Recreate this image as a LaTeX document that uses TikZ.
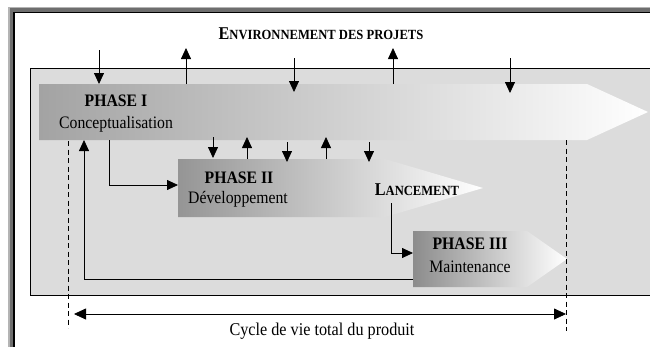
\documentclass[tikz,border=0pt]{standalone}
\usepackage{fontspec}
\setmainfont{Liberation Serif}[FakeStretch=0.9]
\usetikzlibrary{arrows.meta}
\definecolor{framelight}{HTML}{B4B4B4}
\definecolor{framedark}{HTML}{6E6E6E}
\definecolor{bgrey}{HTML}{DCDCDC}
\definecolor{ponel}{HTML}{A3A3A3}
\definecolor{ponem}{HTML}{D0D0D0}
\definecolor{ptwol}{HTML}{959595}
\definecolor{ptwom}{HTML}{D2D2D2}
\definecolor{pthreel}{HTML}{8C8C8C}
\definecolor{pthreem}{HTML}{CFCFCF}
\begin{document}
\begin{tikzpicture}[x=1pt,y=-1pt,
  arr/.style={line width=0.8pt,-{Triangle[length=11pt,width=10pt]}},
  dbl/.style={line width=0.8pt,{Triangle[length=12pt,width=11pt]}-{Triangle[length=12pt,width=11pt]}},
  dsh/.style={line width=0.8pt,dash pattern=on 5pt off 3.5pt},
  txt/.style={inner sep=0pt,anchor=base,font=\fontsize{17.5}{18}\selectfont},
  btxt/.style={inner sep=0pt,anchor=base,font=\fontsize{17.5}{18}\selectfont\bfseries},
  sctxt/.style={inner sep=0pt,anchor=base,font=\bfseries}]
\useasboundingbox (0,0) rectangle (650,346);
\clip (0,0) rectangle (650,346);
% frame
\fill[framelight] (8.3,6.7) rectangle (660,360);
\fill[framedark] (10,8.3) rectangle (660,360);
\fill[black] (13.3,11.7) rectangle (660,360);
\fill[white] (15,13.3) rectangle (660,360);
% background
\filldraw[fill=bgrey,draw=black,line width=0.8pt] (30,68) rectangle (665,295);
% phases
\shade[left color=ponel,middle color=ponem,right color=white]
  (39,84) -- (587,84) -- (648,112) -- (587,140) -- (39,140) -- cycle;
\shade[left color=ptwol,middle color=ptwom,right color=white]
  (178,159) -- (385,159) -- (483,188) -- (385,217) -- (178,217) -- cycle;
\shade[left color=pthreel,middle color=pthreem,right color=white]
  (413,231) -- (527,231) -- (567,259) -- (527,287) -- (413,287) -- cycle;
% texts
\node[sctxt] (env) at (321,39) {{\fontsize{18}{18}\selectfont E}{\fontsize{14}{14}\selectfont NVIRONNEMENT DES PROJETS}};
\node[btxt] (p1t) at (116,106) {PHASE I};
\node[txt] (p1s) at (116,128) {Conceptualisation};
\node[btxt] (p2t) at (239,183) {PHASE II};
\node[txt] (p2s) at (238,203) {Développement};
\node[sctxt] (lanc) at (417,195) {{\fontsize{18}{18}\selectfont L}{\fontsize{14}{14}\selectfont ANCEMENT}};
\node[btxt] (p3t) at (470,249) {PHASE III};
\node[txt] (p3s) at (470,272) {Maintenance};
\node[txt,font=\fontsize{18}{18}\selectfont] (cyc) at (322,335) {Cycle de vie total du produit};
% coordinates
\coordinate (ea1) at (99,50);   \coordinate (eb1) at (99,84);
\coordinate (ea2) at (186,84);  \coordinate (eb2) at (186,48);
\coordinate (ea3) at (294,58);  \coordinate (eb3) at (294,92);
\coordinate (ea4) at (393,84);  \coordinate (eb4) at (393,48);
\coordinate (ea5) at (510,58);  \coordinate (eb5) at (510,93);
\coordinate (ma1) at (213,137); \coordinate (mb1) at (213,158);
\coordinate (ma2) at (247,159); \coordinate (mb2) at (247,137);
\coordinate (ma3) at (287,142); \coordinate (mb3) at (287,162);
\coordinate (ma4) at (326,159); \coordinate (mb4) at (326,137);
\coordinate (ma5) at (369,142); \coordinate (mb5) at (369,162);
\coordinate (c12a) at (109,140); \coordinate (c12b) at (178,185);
\coordinate (c23a) at (391,203); \coordinate (c23b) at (413,253);
\coordinate (fba) at (413,279);  \coordinate (fbb) at (84,140);
\coordinate (dla) at (68,141);   \coordinate (dlb) at (68,328);
\coordinate (dra) at (566,140);  \coordinate (drb) at (566,331);
\coordinate (cyl) at (74,314);   \coordinate (cyr) at (566,314);
% arrows
\foreach \i in {1,...,5} {\draw[arr] (ea\i) -- (eb\i); \draw[arr] (ma\i) -- (mb\i);}
\draw[arr] (c12a) |- (c12b);
\draw[arr] (c23a) |- (c23b);
\draw[arr] (fba) -| (fbb);
\draw[dsh] (dla) -- (dlb);
\draw[dsh] (dra) -- (drb);
\draw[dbl] (cyl) -- (cyr);
\end{tikzpicture}
\end{document}
